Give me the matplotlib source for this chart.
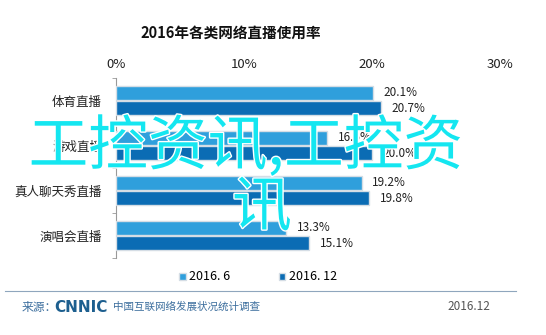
import matplotlib
matplotlib.use("Agg")
import matplotlib.pyplot as plt
import matplotlib.patheffects as pe
import numpy as np

plt.rcParams["font.family"] = ["Noto Sans CJK SC", "DejaVu Sans"]

categories = ["体育直播", "游戏直播", "真人聊天秀直播", "演唱会直播"]
series_names = ["2016. 6", "2016. 12"]
jun_2016 = [20.1, 16.5, 19.2, 13.3]
dec_2016 = [20.7, 20.0, 19.8, 15.1]
xticks = [0, 10, 20, 30]
xtick_labels = ["0%", "10%", "20%", "30%"]

c_light = "#2f9fdc"
c_dark = "#0b6cb4"

fig = plt.figure(figsize=(5.46, 3.35), dpi=100)
fig.patch.set_facecolor("white")

ax = fig.add_axes([116 / 546, 1 - 258 / 335, (500 - 116) / 546, 180 / 335])
ax.set_facecolor("none")

y = np.arange(len(categories))
h = 0.31
b1 = ax.barh(y - 0.175, jun_2016, height=h, color=c_light, edgecolor="#d5dde5", linewidth=1.0, zorder=3)
b2 = ax.barh(y + 0.175, dec_2016, height=h, color=c_dark, edgecolor="#d5dde5", linewidth=1.0, zorder=3)

for bars, vals in ((b1, jun_2016), (b2, dec_2016)):
    for rect, v in zip(bars, vals):
        ax.text(v + 0.8, rect.get_y() + rect.get_height() / 2, f"{v:.1f}%",
                ha="left", va="center", fontsize=8.5, color="#222222", zorder=4)

ax.set_xlim(0, 30)
ax.set_ylim(len(categories) - 0.5, -0.5)
ax.xaxis.tick_top()
ax.set_xticks(xticks)
ax.set_xticklabels(xtick_labels, fontsize=9.5, color="#222222")
ax.tick_params(axis="x", length=0, pad=5)

ax.set_yticks(np.arange(len(categories) + 1) - 0.5, minor=True)
ax.set_yticks(y)
ax.set_yticklabels(categories, fontsize=9, color="#222222")
ax.tick_params(axis="y", which="major", length=0, pad=10)
ax.tick_params(axis="y", which="minor", length=3, color="#999999")

for s in ("top", "right", "bottom"):
    ax.spines[s].set_visible(False)
ax.spines["left"].set_color("#999999")
ax.spines["left"].set_linewidth(0.8)

fig.text(231 / 546, 1 - 33 / 335, "2016年各类网络直播使用率", ha="center", va="center",
         fontsize=10.5, fontweight="bold", color="#111111")

# legend
fig.legend([b1, b2], series_names, loc="center", bbox_to_anchor=(258 / 546, 1 - 277 / 335),
           ncol=2, frameon=False, fontsize=9, handlelength=0.5, handleheight=0.5,
           columnspacing=3.85, handletextpad=0.3)

# footer
fig.add_artist(plt.Line2D([5 / 546, 516 / 546], [1 - 291 / 335] * 2, color="#8fa6bd", lw=0.8))
fig.text(22 / 546, 1 - 307 / 335, "来源：", ha="left", va="center", fontsize=8.5, color="#3d6f9e")
fig.text(54 / 546, 1 - 307 / 335, "CNNIC", ha="left", va="center", fontsize=11,
         fontweight="bold", color="#1d5f8f", family="DejaVu Sans")
fig.text(113 / 546, 1 - 307 / 335, "中国互联网络发展状况统计调查", ha="left", va="center",
         fontsize=7.6, color="#3d6f9e")
fig.text(490 / 546, 1 - 307 / 335, "2016.12", ha="right", va="center", fontsize=8.5, color="#555555")

# overlay watermark
halo = [pe.withStroke(linewidth=2, foreground="white")]
fig.text(246 / 546, 1 - 148 / 335, "工控资讯,工控资", ha="center", va="center",
         fontsize=43, color="#14e6f0", zorder=10, path_effects=halo)
fig.text(262 / 546, 1 - 209 / 335, "讯", ha="center", va="center",
         fontsize=43, color="#14e6f0", zorder=10, path_effects=halo)

fig.savefig("out.png", dpi=100)
